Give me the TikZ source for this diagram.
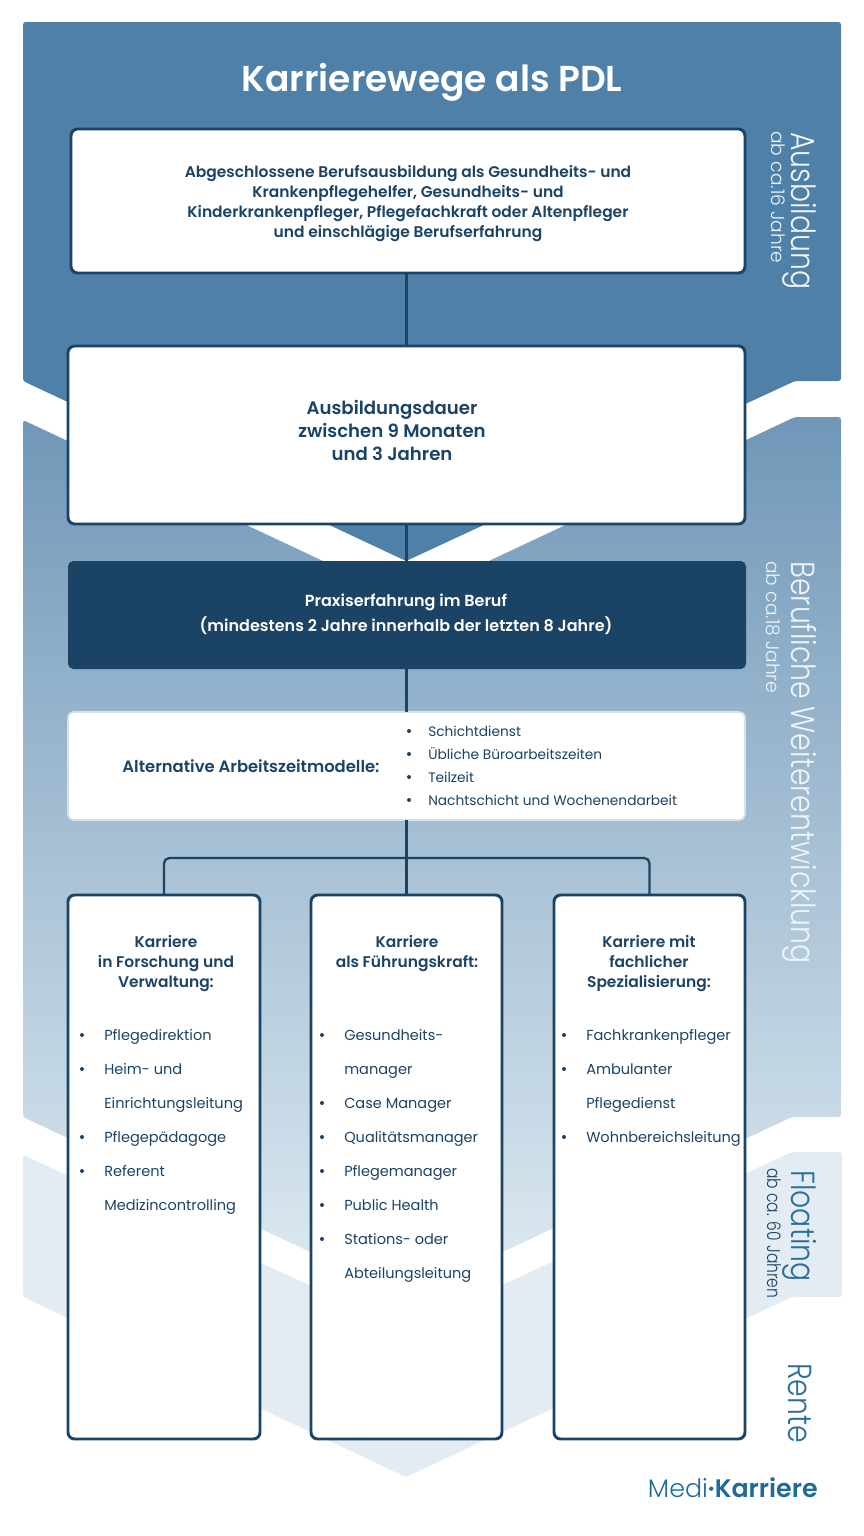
\documentclass[tikz,border=0pt]{standalone}
\usepackage{fontspec}
\setmainfont{Poppins}[BoldFont=Poppins SemiBold]
\newfontfamily\thinfont{Poppins Light}
\usepackage{tikz}

\definecolor{deepblue}{HTML}{1B4365}
\definecolor{bandone}{HTML}{4E80A8}
\definecolor{bandtwotop}{HTML}{7097B8}
\definecolor{bandtwobot}{HTML}{DFEBF2}
\definecolor{bandthree}{HTML}{E4ECF3}
\definecolor{softedge}{HTML}{D5E2EC}
\definecolor{logoblue}{HTML}{1F6A99}

\tikzset{
  whitebox/.style={draw=deepblue, line width=2.2pt, fill=white, rounded corners=5pt, inner sep=0pt, outer sep=0pt},
  headtext/.style={text=deepblue, align=center, font=\bfseries\fontsize{11.6}{15}\selectfont},
  itemtext/.style={text=deepblue, anchor=base west, inner sep=0pt, font=\fontsize{10.9}{12}\selectfont},
  itemdot/.style={circle, fill=deepblue, inner sep=0pt, minimum size=3pt},
  sidebig/.style={rotate=-90, xscale=0.85, anchor=west, inner sep=0pt, font=\thinfont\fontsize{25}{25}\selectfont},
  sidesmall/.style={rotate=-90, anchor=west, inner sep=0pt, font=\thinfont\fontsize{14}{14}\selectfont},
  linkline/.style={draw=deepblue, line width=1.7pt}
}

\begin{document}
\begin{tikzpicture}[x=0.75pt, y=-0.75pt]
  \useasboundingbox (0,0) rectangle (864,1536);

  % bands
  \fill[bandthree, rounded corners=2pt] (23,1155) -- (406,1329) -- (792,1152) -- (842,1152) -- (842,1297) -- (792,1297) -- (406,1477) -- (23,1297) -- cycle;
  \shade[top color=bandtwotop, bottom color=bandtwobot, rounded corners=2pt] (23,420) -- (406,600) -- (795,417) -- (841,417) -- (841,1117) -- (792,1117) -- (406,1297) -- (23,1117) -- cycle;
  \fill[bandone, rounded corners=2pt] (23,22) -- (841,22) -- (841,381) -- (795,381) -- (406,561) -- (23,381) -- cycle;

  \node[text=white, font=\bfseries\fontsize{27}{30}\selectfont] (title) at (432,82) {Karrierewege als PDL};

  % boxes
  \node[whitebox, minimum width=505.5pt, minimum height=108pt] (schule) at (408,201) {};
  \node[whitebox, minimum width=507.75pt, minimum height=133.5pt] (dauer) at (406.5,435) {};
  \node[fill=deepblue, rounded corners=4pt, inner sep=0pt, outer sep=0pt, minimum width=508.5pt, minimum height=81pt] (praxis) at (407,615) {};
  \node[draw=softedge, line width=1.2pt, fill=white, rounded corners=4pt, inner sep=0pt, outer sep=0pt, minimum width=507.75pt, minimum height=81pt] (modelle) at (406.5,766) {};
  \node[whitebox, minimum width=144pt, minimum height=408pt] (forschung) at (164,1167) {};
  \node[whitebox, minimum width=143.25pt, minimum height=408pt] (fuehrung) at (406.5,1167) {};
  \node[whitebox, minimum width=143.25pt, minimum height=408pt] (fach) at (649.5,1167) {};

  % connectors
  \coordinate (split) at (406.5,858);
  \draw[linkline] (schule.south -| dauer.north) -- (dauer.north);
  \draw[linkline] (dauer.south) -- (dauer.south |- praxis.north);
  \draw[linkline] (praxis.south -| modelle.north) -- (modelle.north);
  \draw[linkline] (modelle.south) -- (fuehrung.north);
  \draw[linkline, rounded corners=4pt] (forschung.north) -- (forschung.north |- split) -- (fach.north |- split) -- (fach.north);

  % texts
  \node[headtext] (schuletext) at (408,204) {Abgeschlossene Berufsausbildung als Gesundheits- und\\Krankenpflegehelfer, Gesundheits- und\\Kinderkrankenpfleger, Pflegefachkraft oder Altenpfleger\\und einschlägige Berufserfahrung};
  \node[headtext, font=\bfseries\fontsize{13.6}{17.25}\selectfont] (dauertext) at (392,430) {Ausbildungsdauer\\zwischen 9 Monaten\\und 3 Jahren};
  \node[headtext, text=white, font=\bfseries\fontsize{12}{18.75}\selectfont] (praxistext) at (406,614) {Praxiserfahrung im Beruf\\(mindestens 2 Jahre innerhalb der letzten 8 Jahre)};
  \node[headtext, font=\bfseries\fontsize{12.3}{15}\selectfont] (modelletext) at (251,766) {Alternative Arbeitszeitmodelle:};
  \foreach \t [count=\i from 0] in {Schichtdienst,Übliche Büroarbeitszeiten,Teilzeit,Nachtschicht und Wochenendarbeit} {
    \node[itemdot] (modelledot\i) at (409,{731+23*\i}) {};
    \node[itemtext, font=\fontsize{10.3}{12}\selectfont] (modelleitem\i) at (428,{736+23*\i}) {\t};
  }

  \node[headtext] (forschunghead) at (166,964) {Karriere\\in Forschung und\\Verwaltung:};
  \node[headtext] (fuehrunghead) at (407,954) {Karriere\\als Führungskraft:};
  \node[headtext] (fachhead) at (649,964) {Karriere mit\\fachlicher\\Spezialisierung:};

  \foreach \t [count=\i from 0] in {Pflegedirektion,Heim- und,Einrichtungsleitung,Pflegepädagoge,Referent,Medizincontrolling}
    \node[itemtext] (forschungitem\i) at (104,{1040+34*\i}) {\t};
  \foreach \i in {0,1,3,4}
    \node[itemdot] (forschungdot\i) at (82,{1035+34*\i}) {};

  \foreach \t [count=\i from 0] in {Gesundheits-,manager,Case Manager,Qualitätsmanager,Pflegemanager,Public Health,Stations- oder,Abteilungsleitung}
    \node[itemtext] (fuehrungitem\i) at (344,{1040+34*\i}) {\t};
  \foreach \i in {0,2,3,4,5,6}
    \node[itemdot] (fuehrungdot\i) at (322,{1035+34*\i}) {};

  \foreach \t [count=\i from 0] in {Fachkrankenpfleger,Ambulanter,Pflegedienst,Wohnbereichsleitung}
    \node[itemtext] (fachitem\i) at (586,{1040+34*\i}) {\t};
  \foreach \i in {0,1,3}
    \node[itemdot] (fachdot\i) at (564,{1035+34*\i}) {};

  % side labels
  \node[sidebig, text=white!92!bandone] (ausbildung) at (800,132) {Ausbildung};
  \node[sidesmall, text=white!92!bandone] (ausbildungab) at (778,131) {ab ca.16 Jahre};
  \node[sidebig, text=white!92!bandone] (beruf) at (800,561) {Berufliche Weiterentwicklung};
  \node[sidesmall, text=white!92!bandone] (berufab) at (773,561) {ab ca.18 Jahre};
  \node[sidebig, text=logoblue!80!bandone] (floating) at (800,1170) {Floating};
  \node[sidesmall, xscale=0.83, text=deepblue] (floatingab) at (774,1168) {ab ca. 60 Jahren};
  \node[sidebig, text=logoblue!80!bandone] (rente) at (800,1363) {Rente};

  \node[anchor=east, inner sep=0pt, text=logoblue, font=\thinfont\fontsize{19}{22}\selectfont] (logo) at (818,1488) {Medi\textbf{\textperiodcentered}{\fontspec{Poppins SemiBold}Karriere}};
\end{tikzpicture}
\end{document}
